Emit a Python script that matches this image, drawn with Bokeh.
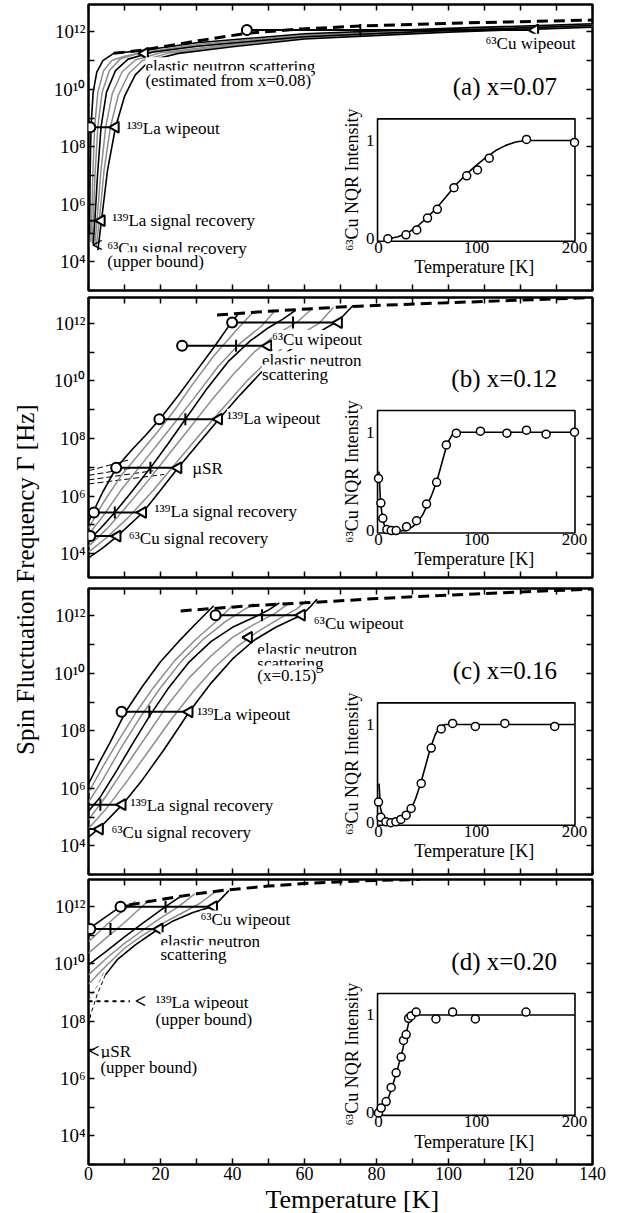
import numpy as np
from bokeh.plotting import figure
from bokeh.models import Range1d, LinearAxis, FixedTicker, Label, Title
from bokeh.layouts import column, row
from bokeh.embed import file_html
from bokeh.resources import INLINE
from bokeh.core.properties import value

SERIF = "Liberation Serif"
GRAY = "#8c8c8c"

# ---------------- shared axes ----------------
T_TICKS = list(range(0, 141, 10))
T_LABEL_TICKS = list(range(0, 141, 20))
T_MINOR = list(range(10, 140, 20))
LOGG_LABEL_TICKS = [4, 6, 8, 10, 12]
LOGG_MINOR = [3, 5, 7, 9, 11, 13]
LOGG_LABELS = {4: "10\u2074", 6: "10\u2076", 8: "10\u2078", 10: "10\u00b9\u2070", 12: "10\u00b9\u00b2"}
SUP139 = "\u00b9\u00b3\u2079"
SUP63 = "\u2076\u00b3"
X_TITLE = "Temperature  [K]"
Y_TITLE = "Spin Fluctuation Frequency \u0393  [Hz]"

# ---------------- panel (a) x=0.07 : temperature [K], log10 Gamma [Hz] ----------------
a_curves_T = [
    [0.3, 0.45, 0.7, 1.3, 2.3, 4, 7, 15, 30, 60, 100, 140],
    [0.6, 0.9, 1.2, 1.7, 2.6, 4.2, 6.5, 10, 15, 30, 60, 100, 140],
    [1.0, 1.35, 1.8, 2.6, 3.8, 5.8, 8.8, 13, 20, 35, 60, 100, 140],
    [1.3, 1.8, 2.5, 3.5, 5, 7.5, 11, 18, 30, 60, 100, 140],
    [1.7, 2.4, 3.4, 4.8, 6.6, 9.3, 13, 20, 35, 60, 100, 140],
    [2.1, 3.0, 4.3, 6.1, 8.3, 11.2, 15, 22, 38, 60, 100, 140],
    [2.6, 3.6, 5.3, 7.5, 10, 13, 17, 25, 40, 60, 100, 140],
]
a_curves_logG = [
    [5.0, 7.0, 8.7, 9.9, 10.6, 11.0, 11.25, 11.35, 11.62, 11.93, 12.12, 12.28],
    [4.7, 5.5, 7.0, 8.7, 9.9, 10.65, 11.0, 11.15, 11.28, 11.56, 11.89, 12.09, 12.26],
    [4.65, 5.5, 7.0, 8.7, 9.9, 10.65, 11.05, 11.22, 11.33, 11.57, 11.86, 12.07, 12.24],
    [4.6, 5.5, 7.0, 8.7, 9.9, 10.65, 11.05, 11.3, 11.5, 11.83, 12.05, 12.22],
    [4.55, 5.5, 7.1, 8.7, 9.85, 10.6, 11.02, 11.27, 11.5, 11.8, 12.03, 12.2],
    [4.5, 5.45, 7.15, 8.7, 9.8, 10.55, 11.0, 11.25, 11.5, 11.78, 12.01, 12.18],
    [4.4, 5.43, 7.2, 8.68, 9.75, 10.5, 11.0, 11.25, 11.48, 11.75, 11.99, 12.16],
]
a_dash_T = [7, 15.4, 31, 44, 59, 75.5, 105, 140]
a_dash_logG = [11.25, 11.37, 11.7, 11.95, 12.1, 12.2, 12.31, 12.41]
a_bar_logG = [12.06, 8.68, 5.43]
a_bar_from = [44.0, 0.0, 0.0]
a_bar_to = [124.0, 7.5, 3.6]
a_circle_T = [44.0, 0.5]
a_circle_logG = [12.06, 8.68]
a_tick_T = [75.5]
a_tick_logG = [12.06]
a_tri_T = [124.0, 7.5, 3.6, 15.6]
a_tri_logG = [12.06, 8.68, 5.43, 11.25]
a_chev_T = [2.4]
a_chev_logG = [4.58]
a_text = ["elastic neutron scattering", "(estimated from x=0.08)", SUP63 + "Cu wipeout",
          SUP139 + "La wipeout", SUP139 + "La signal recovery", SUP63 + "Cu signal recovery", "(upper bound)"]
a_text_T = [15.8, 15.8, 110.3, 10.6, 6.6, 5.2, 5.2]
a_text_logG = [10.78, 10.32, 11.6, 8.64, 5.45, 4.47, 4.0]
a_ins_T = [9.5, 28, 39, 50, 60, 77, 90, 101, 113, 151, 200]
a_ins_I = [0.0, 0.04, 0.09, 0.21, 0.30, 0.52, 0.64, 0.70, 0.82, 1.01, 0.98]
a_fit_T = [10, 20, 30, 40, 50, 60, 70, 80, 90, 100, 110, 120, 130, 140, 150, 200]
a_fit_I = [0.0, 0.02, 0.06, 0.13, 0.22, 0.32, 0.44, 0.56, 0.66, 0.75, 0.83, 0.9, 0.95, 0.985, 1.0, 1.0]

# ---------------- panel (b) x=0.12 ----------------
b_curves_T = [
    [0, 1.5, 4, 7.7, 12, 16, 20, 25, 30, 35, 39.5, 41.5],
    [0, 4, 9, 14, 19, 24, 29, 35, 41, 45.5],
    [0, 4, 9, 16, 23, 29, 36, 42, 48, 51.5],
    [0, 3.5, 7.3, 12, 17.2, 22, 26.9, 33, 39, 45, 50, 54, 57.5],
    [0, 5, 10, 16, 22, 28, 34, 40, 46, 52, 58, 62],
    [0, 5, 11, 18, 25, 31, 38, 44, 51, 58, 64, 68],
    [0, 4, 8, 15.1, 20, 24.9, 30, 36.2, 42, 48, 55, 62, 69.5, 73.5],
]
b_curves_logG = [
    [5.1, 5.5, 6.15, 6.98, 7.6, 8.13, 8.7, 9.5, 10.35, 11.2, 12.0, 12.32],
    [4.88, 5.75, 6.7, 7.45, 8.2, 9.0, 9.9, 10.9, 11.75, 12.36],
    [4.66, 5.3, 6.2, 7.3, 8.4, 9.35, 10.5, 11.3, 11.9, 12.4],
    [4.45, 4.9, 5.43, 6.15, 6.98, 7.8, 8.67, 9.75, 10.7, 11.4, 11.85, 12.15, 12.45],
    [4.25, 4.85, 5.55, 6.45, 7.4, 8.35, 9.3, 10.2, 11.0, 11.6, 12.05, 12.5],
    [4.05, 4.55, 5.25, 6.2, 7.25, 8.15, 9.15, 10.0, 10.85, 11.55, 12.0, 12.55],
    [3.85, 4.2, 4.61, 5.43, 6.2, 6.98, 7.75, 8.67, 9.5, 10.3, 11.0, 11.55, 12.1, 12.62],
]
b_dash_T = [35.7, 50, 71.4, 96, 140]
b_dash_logG = [12.29, 12.42, 12.58, 12.7, 12.9]
b_bar_logG = [12.03, 11.22, 8.67, 6.98, 5.43, 4.61]
b_bar_from = [39.9, 26.0, 19.7, 7.7, 1.5, 0.5]
b_bar_to = [69.5, 49.9, 36.2, 24.9, 15.1, 8.0]
b_circle_T = [39.9, 26.0, 19.7, 7.7, 1.5, 0.5]
b_circle_logG = [12.03, 11.22, 8.67, 6.98, 5.43, 4.61]
b_tick_T = [56.8, 41.0, 26.9, 17.2, 7.3]
b_tick_logG = [12.03, 11.22, 8.67, 6.98, 5.43]
b_tri_T = [69.5, 49.9, 36.2, 24.9, 15.1, 8.0]
b_tri_logG = [12.03, 11.22, 8.67, 6.98, 5.43, 4.61]
b_musr_T0 = [0, 0, 0, 0]
b_musr_T1 = [11, 14.5, 18, 21]
b_musr_G0 = [6.88, 6.72, 6.56, 6.42]
b_musr_G1 = [7.25, 7.02, 6.88, 6.75]
b_text = [SUP63 + "Cu wipeout", "elastic neutron", "scattering", SUP139 + "La wipeout", "\u00b5SR",
          SUP139 + "La signal recovery", SUP63 + "Cu signal recovery"]
b_text_T = [51, 48.2, 48.2, 38.5, 28.8, 18.3, 11.2]
b_text_logG = [11.44, 10.7, 10.24, 8.7, 6.96, 5.45, 4.52]
b_ins_T = [0, 2.4, 4.4, 8.5, 13, 18, 28.6, 38.8, 49, 59.3, 69.2, 79.4, 104, 131, 151, 171, 200]
b_ins_I = [0.53, 0.28, 0.125, 0.01, 0.0, 0.0, 0.04, 0.10, 0.27, 0.49, 0.87, 0.99, 1.01, 0.99, 1.02, 0.98, 1.0]
b_fit_T = [0.5, 2, 4, 7, 10, 28, 35, 40, 45, 50, 55, 60, 65, 70, 75, 80, 200]
b_fit_I = [0.6, 0.3, 0.12, 0.02, 0, 0, 0.04, 0.09, 0.16, 0.26, 0.38, 0.52, 0.7, 0.88, 0.97, 1.0, 1.0]

# ---------------- panel (c) x=0.16 ----------------
c_curves_T = [
    [0, 3, 6, 10.3, 15, 20, 25, 30, 34.8],
    [0, 4, 8, 13, 18, 24, 30, 35, 40],
    [0, 4, 9, 14, 20, 26, 32, 38, 43, 46],
    [0, 3.3, 8, 12, 16.9, 22, 28, 34, 40, 46, 50, 53],
    [0, 5, 10, 16, 22, 28, 34, 40, 46, 52, 56],
    [0, 5, 11, 17, 23, 29, 35, 41, 47, 53, 58, 60.5],
    [0, 3.1, 9.4, 15, 21, 28, 34, 40, 46, 52, 57, 59.2, 61.5, 63.5],
]
c_curves_logG = [
    [6.15, 6.9, 7.6, 8.66, 9.55, 10.4, 11.1, 11.75, 12.35],
    [5.85, 6.75, 7.6, 8.6, 9.5, 10.45, 11.2, 11.75, 12.35],
    [5.52, 6.3, 7.4, 8.4, 9.5, 10.45, 11.2, 11.8, 12.2, 12.42],
    [5.2, 5.7, 6.65, 7.5, 8.5, 9.45, 10.4, 11.1, 11.6, 11.95, 12.2, 12.45],
    [4.9, 5.75, 6.7, 7.8, 8.9, 9.85, 10.6, 11.25, 11.7, 12.1, 12.47],
    [4.6, 5.3, 6.3, 7.35, 8.4, 9.35, 10.2, 10.9, 11.45, 11.9, 12.25, 12.52],
    [4.3, 4.62, 5.43, 6.3, 7.35, 8.66, 9.65, 10.5, 11.15, 11.6, 11.9, 12.02, 12.3, 12.58],
]
c_dash_T = [25.6, 45, 60, 80, 100, 120, 140]
c_dash_logG = [12.17, 12.35, 12.45, 12.6, 12.72, 12.83, 12.93]
c_bar_logG = [12.02, 8.66, 5.43, 4.58]
c_bar_from = [35.3, 9.2, 0.0, 0.0]
c_bar_to = [59.2, 28.0, 9.4, 3.1]
c_circle_T = [35.3, 9.2]
c_circle_logG = [12.02, 8.66]
c_tick_T = [48.2, 16.9, 3.3]
c_tick_logG = [12.02, 8.66, 5.43]
c_tri_T = [59.2, 28.0, 9.4, 3.1, 44.5]
c_tri_logG = [12.02, 8.66, 5.43, 4.58, 11.25]
c_text = [SUP63 + "Cu wipeout", "elastic neutron", "scattering", "(x=0.15)", SUP139 + "La wipeout",
          SUP139 + "La signal recovery", SUP63 + "Cu signal recovery"]
c_text_T = [62.6, 46.9, 46.9, 46.9, 30.2, 11.7, 6.4]
c_text_logG = [11.73, 10.84, 10.35, 9.94, 8.58, 5.39, 4.46]
c_ins_T = [0, 2.4, 7.5, 12.6, 17.7, 22.8, 28.2, 33.3, 43.6, 53.8, 64, 75.6, 98.8, 128.9, 179.8]
c_ins_I = [0.21, 0.055, 0.01, 0.0, 0.01, 0.034, 0.077, 0.145, 0.40, 0.76, 0.955, 1.01, 0.98, 1.01, 0.98]
c_fit_T = [0.5, 2, 5, 8, 22, 28, 33, 38, 43, 48, 53, 58, 63, 68, 200]
c_fit_I = [0.4, 0.15, 0.03, 0, 0, 0.05, 0.13, 0.25, 0.4, 0.58, 0.76, 0.9, 0.98, 1.0, 1.0]

# ---------------- panel (d) x=0.20 ----------------
d_curves_T = [
    [0, 4.5, 8.9, 11.2],
    [0, 4, 8, 13],
    [0, 5, 10, 17],
    [0, 5, 10, 15, 21.4, 25.5],
    [0, 5, 10, 15, 20, 25, 29.5],
    [0, 5, 10, 15, 20, 26, 31, 35],
    [4.7, 8, 13, 18, 23.2, 29, 34.8, 37, 39],
]
d_curves_logG = [
    [11.22, 11.62, 12.0, 12.06],
    [10.78, 11.25, 11.7, 12.2],
    [10.38, 10.92, 11.45, 12.25],
    [9.97, 10.45, 10.95, 11.42, 12.0, 12.35],
    [9.62, 10.2, 10.72, 11.17, 11.6, 12.0, 12.45],
    [9.3, 9.95, 10.55, 11.0, 11.38, 11.78, 12.12, 12.5],
    [9.62, 10.15, 10.67, 11.1, 11.48, 11.8, 12.02, 12.3, 12.56],
]
d_ext_black_T = [4.7, 2.4, 0.6, 0.05]
d_ext_black_logG = [9.62, 8.93, 8.23, 7.8]
d_ext_gray_T = [4.2, 2.5, 1.0, 0.2]
d_ext_gray_logG = [9.7, 9.25, 8.95, 8.75]
d_dash_T = [11.2, 20, 30, 38, 50, 60, 75, 92]
d_dash_logG = [12.06, 12.25, 12.45, 12.58, 12.72, 12.81, 12.9, 12.95]
d_bar_logG = [12.0, 11.22]
d_bar_from = [8.9, 0.5]
d_bar_to = [34.8, 19.7]
d_circle_T = [8.9, 0.5]
d_circle_logG = [12.0, 11.22]
d_tick_T = [21.4, 6.1]
d_tick_logG = [12.0, 11.22]
d_tri_T = [34.8, 19.7]
d_tri_logG = [12.0, 11.22]
d_dot_T = [0, 11.5]
d_dot_logG = [8.70, 8.70]
d_chev_T = [14.4, 1.5]
d_chev_logG = [8.70, 6.96]
d_text = [SUP63 + "Cu wipeout", "elastic neutron", "scattering", SUP139 + "La wipeout", "(upper bound)",
          "\u00b5SR", "(upper bound)"]
d_text_T = [31.1, 20, 20, 18.6, 18.6, 3.3, 3.3]
d_text_logG = [11.54, 10.78, 10.32, 8.64, 8.06, 6.96, 6.38]
d_ins_T = [0, 2.7, 7.8, 12.9, 18, 23.1, 25.5, 28.2, 30.7, 33.3, 38.4, 58.6, 75.6, 98.8, 150.5]
d_ins_I = [0.0, 0.05, 0.116, 0.26, 0.41, 0.57, 0.74, 0.80, 0.966, 0.99, 1.03, 0.96, 1.03, 0.96, 1.03]
d_fit_T = [0, 5, 10, 15, 20, 25, 28, 31, 34, 200]
d_fit_I = [0, 0.06, 0.15, 0.3, 0.47, 0.66, 0.8, 0.93, 1.0, 1.0]

CURVE_KIND = ["black", "gray", "gray", "black", "gray", "gray", "black"]
PANEL_LABELS = ["(a)  x=0.07", "(b)  x=0.12", "(c)  x=0.16", "(d)  x=0.20"]
INSET_TICKS_T = [0, 100, 200]
INSET_TICKS_I = [0, 1]


def tick_style(ax):
    ax.major_tick_in = 6
    ax.major_tick_out = 0
    ax.minor_tick_in = 6
    ax.minor_tick_out = 0
    ax.major_tick_line_width = 1.5
    ax.minor_tick_line_width = 1.5
    ax.major_tick_line_color = "black"
    ax.minor_tick_line_color = "black"
    ax.axis_line_color = None


def hide_labels(ax):
    ax.major_label_text_color = None
    ax.major_label_text_font_size = "1px"
    ax.major_label_standoff = 0


def make_panel(yr, height, top, bottom, x_labels):
    p = figure(width=583, height=height, x_range=Range1d(0, 140), y_range=Range1d(*yr),
               output_backend="svg", toolbar_location=None,
               x_axis_location=None, y_axis_location=None,
               min_border_left=48, min_border_right=31,
               min_border_top=top, min_border_bottom=bottom)
    p.grid.grid_line_color = None
    p.outline_line_color = "black"
    p.outline_line_width = 2.5
    p.background_fill_color = "white"
    p.border_fill_color = "white"
    xt_lab = FixedTicker(ticks=T_LABEL_TICKS, minor_ticks=T_MINOR)
    xt_all = FixedTicker(ticks=T_TICKS, minor_ticks=[])
    yt_lab = FixedTicker(ticks=LOGG_LABEL_TICKS, minor_ticks=LOGG_MINOR)
    bx = LinearAxis(ticker=xt_lab if x_labels else xt_all)
    tick_style(bx)
    if x_labels:
        bx.major_label_text_font = SERIF
        bx.major_label_text_font_size = "18px"
        bx.major_label_text_color = "black"
        bx.major_label_standoff = 2
    else:
        hide_labels(bx)
    p.add_layout(bx, "below")
    tx = LinearAxis(ticker=xt_all)
    tick_style(tx)
    hide_labels(tx)
    p.add_layout(tx, "above")
    ly = LinearAxis(ticker=yt_lab)
    tick_style(ly)
    ly.major_label_text_font = SERIF
    ly.major_label_text_font_size = "19px"
    ly.major_label_text_color = "black"
    ly.major_label_standoff = 3
    ly.major_label_overrides = LOGG_LABELS
    p.add_layout(ly, "left")
    ry = LinearAxis(ticker=yt_lab)
    tick_style(ry)
    hide_labels(ry)
    p.add_layout(ry, "right")
    return p


def draw(p, curves_T, curves_G, dash_T, dash_G, bar_G, bar_from, bar_to, circ_T, circ_G,
         tick_T, tick_G, tri_T, tri_G, texts, text_T, text_G, label, ins_T, ins_I, fit_T, fit_I):
    for kind in ["gray", "black"]:
        for cT, cG, k in zip(curves_T, curves_G, CURVE_KIND):
            if k == kind:
                p.line(cT, cG, line_color=GRAY if k == "gray" else "black",
                       line_width=1.5 if k == "gray" else 1.6)
    p.line(dash_T, dash_G, line_color="black", line_width=3, line_dash="11 6")
    p.segment(x0=bar_from, y0=bar_G, x1=bar_to, y1=bar_G, line_color="black", line_width=2)
    if tick_T:
        p.scatter(tick_T, tick_G, marker="dash", angle=np.pi / 2, size=12,
                  line_color="black", line_width=2)
    p.scatter(circ_T, circ_G, marker="circle", size=10, fill_color="white",
              line_color="black", line_width=2)
    p.scatter(tri_T, tri_G, marker="triangle", angle=np.pi / 2, size=11, fill_color="white",
              line_color="black", line_width=2)
    p.text(x=text_T, y=text_G, text=texts, text_font=value(SERIF), text_font_size=value("17px"),
           text_baseline="middle", text_align="left", text_color="black",
           background_fill_color="white")
    p.text(x=[131.9], y=[10.09], text=[label], text_font=value(SERIF),
           text_font_size=value("25px"), text_baseline="middle", text_align="right",
           text_color="black")
    # inset: intensity vs temperature, own linear coordinates mapped into the panel
    ins = p.subplot(x_source=Range1d(0, 200), y_source=Range1d(0, 1),
                    x_target=Range1d(80.56, 135.0), y_target=Range1d(4.8, 8.22))
    ins.quad(left=[-1], right=[200.5], bottom=[-0.025], top=[1.22], fill_color="white",
             line_color="black", line_width=1.6)
    ins.line(fit_T, fit_I, line_color="black", line_width=1.6)
    ins.scatter(ins_T, ins_I, marker="circle", size=8, fill_color="white",
                line_color="black", line_width=1.5)
    ins.text(x=INSET_TICKS_T, y=[-0.035] * 3, text=[str(t) for t in INSET_TICKS_T],
             text_font=value(SERIF), text_font_size=value("17px"), text_align="center",
             text_baseline="top", text_color="black")
    ins.text(x=[-4] * 2, y=INSET_TICKS_I, text=[str(t) for t in INSET_TICKS_I],
             text_font=value(SERIF), text_font_size=value("17px"), text_align="right",
             text_baseline="middle", text_color="black")
    ins.text(x=[100], y=[-0.19], text=["Temperature  [K]"], text_font=value(SERIF),
             text_font_size=value("18px"), text_align="center", text_baseline="top",
             text_color="black")
    ins.text(x=[-27], y=[0.6], text=[SUP63 + "Cu NQR Intensity"], angle=np.pi / 2,
             text_font=value(SERIF), text_font_size=value("18px"), text_align="center",
             text_baseline="middle", text_color="black")


pa = make_panel((3.0, 12.95), 293, 4, 3, False)
draw(pa, a_curves_T, a_curves_logG, a_dash_T, a_dash_logG, a_bar_logG, a_bar_from, a_bar_to,
     a_circle_T, a_circle_logG, a_tick_T, a_tick_logG, a_tri_T, a_tri_logG,
     a_text, a_text_T, a_text_logG, PANEL_LABELS[0], a_ins_T, a_ins_I, a_fit_T, a_fit_I)
pa.text(x=a_chev_T, y=a_chev_logG, text=["<"] * len(a_chev_T), text_font=value(SERIF),
        text_font_size=value("20px"), text_font_style="bold", text_align="center",
        text_baseline="middle", text_color="black")

pb = make_panel((3.17, 12.9), 289, 4, 5, False)
pb.segment(x0=b_musr_T0, y0=b_musr_G0, x1=b_musr_T1, y1=b_musr_G1, line_color="black",
           line_width=1, line_dash="6 3")
draw(pb, b_curves_T, b_curves_logG, b_dash_T, b_dash_logG, b_bar_logG, b_bar_from, b_bar_to,
     b_circle_T, b_circle_logG, b_tick_T, b_tick_logG, b_tri_T, b_tri_logG,
     b_text, b_text_T, b_text_logG, PANEL_LABELS[1], b_ins_T, b_ins_I, b_fit_T, b_fit_I)

pc = make_panel((3.0, 12.95), 294, 6, 2, False)
draw(pc, c_curves_T, c_curves_logG, c_dash_T, c_dash_logG, c_bar_logG, c_bar_from, c_bar_to,
     c_circle_T, c_circle_logG, c_tick_T, c_tick_logG, c_tri_T, c_tri_logG,
     c_text, c_text_T, c_text_logG, PANEL_LABELS[2], c_ins_T, c_ins_I, c_fit_T, c_fit_I)

pd_ = make_panel((3.0, 12.95), 337, 3, 48, True)
pd_.line(d_ext_gray_T, d_ext_gray_logG, line_color=GRAY, line_width=1, line_dash="4 3")
pd_.line(d_ext_black_T, d_ext_black_logG, line_color="black", line_width=1, line_dash="4 3")
pd_.line(d_dot_T, d_dot_logG, line_color="black", line_width=1.8, line_dash="4 4")
draw(pd_, d_curves_T, d_curves_logG, d_dash_T, d_dash_logG, d_bar_logG, d_bar_from, d_bar_to,
     d_circle_T, d_circle_logG, d_tick_T, d_tick_logG, d_tri_T, d_tri_logG,
     d_text, d_text_T, d_text_logG, PANEL_LABELS[3], d_ins_T, d_ins_I, d_fit_T, d_fit_I)
pd_.text(x=d_chev_T, y=d_chev_logG, text=["<"] * len(d_chev_T), text_font=value(SERIF),
         text_font_size=value("20px"), text_font_style="bold", text_align="center",
         text_baseline="middle", text_color="black")
pd_.add_layout(Title(text=X_TITLE, align="left", offset=177, standoff=0,
                     text_font=SERIF, text_font_size="26px", text_font_style="normal",
                     text_color="black"), "below")

# shared y-axis title
lab = figure(width=40, height=1213, x_range=Range1d(0, 1), y_range=Range1d(0, 1),
             output_backend="svg", toolbar_location=None,
             x_axis_location=None, y_axis_location=None, min_border=0)
lab.grid.grid_line_color = None
lab.outline_line_color = None
lab.add_layout(Label(x=0.62, y=1 - 576 / 1213, text=Y_TITLE,
                     angle=np.pi / 2, text_align="center", text_baseline="middle",
                     text_font=SERIF, text_font_size="25px", text_color="black"))

layout = row(lab, column(pa, pb, pc, pd_))
open("out.html", "w").write(file_html(layout, INLINE))
